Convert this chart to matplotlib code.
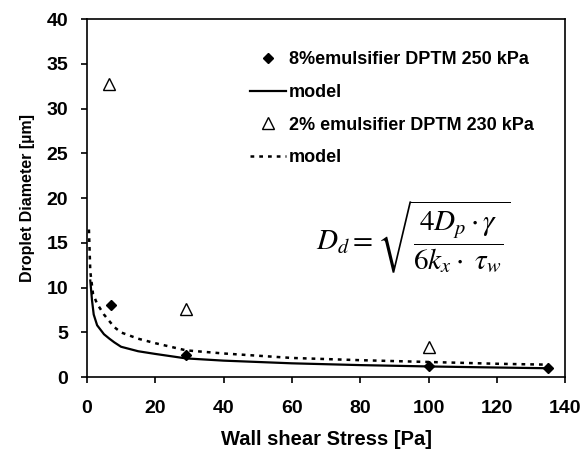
import matplotlib.pyplot as plt
import numpy as np

plt.rcParams['font.family'] = ['Liberation Sans', 'DejaVu Sans']
plt.rcParams['mathtext.fontset'] = 'stix'

# 测量数据
x_8 = [7, 29, 100, 135]
y_8 = [8.1, 2.5, 1.3, 1.0]
x_2 = [6.5, 29, 100]
y_2 = [32.8, 7.6, 3.4]

# 模型曲线
model_8_x = [1, 1.5, 2, 3, 5, 6.6, 8, 10, 15, 20, 29, 40, 60, 80, 100, 120, 135]
model_8_y = [10.8, 8.6, 7.0, 5.8, 4.8, 4.3, 3.9, 3.4, 2.9, 2.6, 2.1, 1.85, 1.55, 1.35, 1.2, 1.08, 1.0]
model_2_x = [0.6, 1, 1.8, 3, 5, 8, 10, 15, 20, 29, 40, 60, 80, 100, 120, 135]
model_2_y = [16.5, 11.8, 9.3, 8.2, 7.0, 5.6, 5.0, 4.3, 3.8, 3.0, 2.65, 2.15, 1.9, 1.7, 1.5, 1.4]

fig = plt.figure(figsize=(5.87, 4.55), dpi=100)
ax = fig.add_axes([0.148, 0.171, 0.815, 0.787])

ax.plot(x_8, y_8, linestyle='none', marker='D', markersize=5.5, color='black',
        label='8%emulsifier DPTM 250 kPa')
ax.plot(model_8_x, model_8_y, '-', color='black', linewidth=1.6, label='model')
ax.plot(x_2, y_2, linestyle='none', marker='^', markersize=9, markerfacecolor='white',
        markeredgecolor='black', markeredgewidth=1.0, label='2% emulsifier DPTM 230 kPa')
ax.plot(model_2_x, model_2_y, linestyle=(0, (1.5, 2)), color='black', linewidth=1.8, label='model')

ax.set_xlim(0, 140)
ax.set_ylim(0, 40)
ax.set_xticks(np.arange(0, 141, 20))
ax.set_yticks(np.arange(0, 41, 5))
ax.tick_params(axis='both', direction='out', labelsize=14, length=4.5, width=1.2)
ax.tick_params(axis='x', pad=12)
ax.tick_params(axis='y', pad=9)
for lbl in ax.get_xticklabels() + ax.get_yticklabels():
    lbl.set_fontweight('bold')
for s in ax.spines.values():
    s.set_linewidth(1.2)

ax.set_xlabel('Wall shear Stress [Pa]', fontsize=14.5, fontweight='bold', labelpad=9)
ax.set_ylabel('Droplet Diameter [µm]', fontsize=11.5, fontweight='bold', labelpad=8)

ax.legend(loc='upper left', bbox_to_anchor=(0.341, 0.91), frameon=False,
          prop={'size': 13, 'weight': 'bold'}, borderpad=0, borderaxespad=0,
          handlelength=2.0, labelspacing=0.87, handletextpad=0.15)

ax.text(95.5, 15.6, r'$D_d=\sqrt{\dfrac{4D_p\cdot\gamma}{6k_x\cdot\ \tau_w}}$',
        fontsize=21, ha='center', va='center')

plt.savefig('out.png', dpi=100)
